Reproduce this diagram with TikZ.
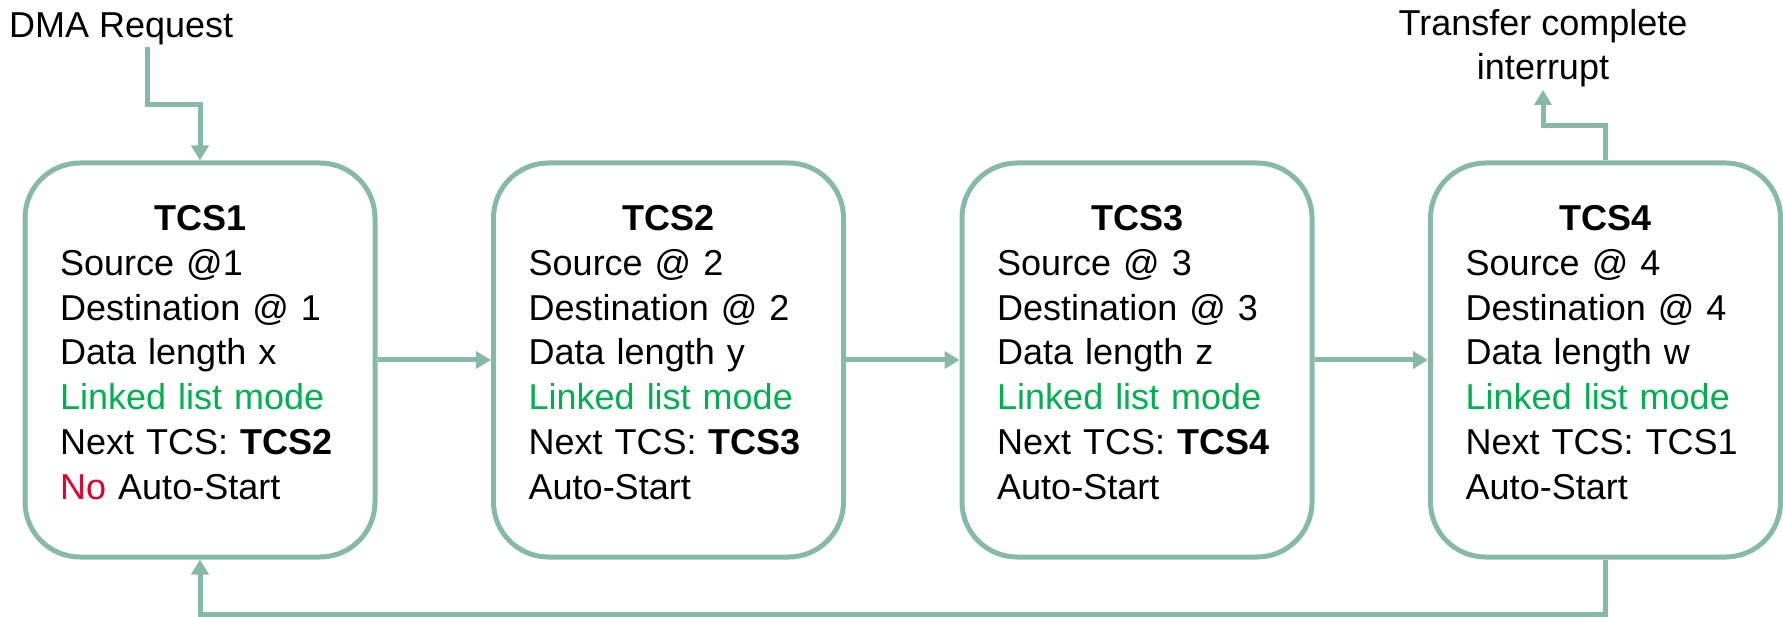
\documentclass[tikz,border=0pt]{standalone}
\usepackage{fontspec}
\setmainfont{Liberation Sans}
\usetikzlibrary{arrows.meta}
\definecolor{lineg}{RGB}{134,185,167}
\definecolor{txtgreen}{RGB}{0,176,80}
\definecolor{txtred}{RGB}{228,0,43}
\begin{document}
\begin{tikzpicture}[x=1pt,y=-1pt,
  tcsbox/.style={draw=lineg, line width=5pt, rounded corners=55pt, minimum width=350pt, minimum height=394pt, inner sep=0pt},
  tcstext/.style={anchor=north west, text width=280pt, align=left, inner sep=0pt, font=\fontsize{36}{44.7}\selectfont},
  conn/.style={draw=lineg, line width=5pt, -{Triangle[length=15pt,width=17pt]}},
  lbl/.style={inner sep=0pt, font=\fontsize{36}{44.7}\selectfont, align=center}]
\useasboundingbox (0,0) rectangle (1783,617);

\node[tcsbox] (b1) at (200,360) {};
\node[tcsbox] (b2) at (668.5,360) {};
\node[tcsbox] (b3) at (1137,360) {};
\node[tcsbox] (b4) at (1605.5,360) {};

\node[tcstext] (t1) at (60,205.5) {\makebox[\linewidth]{\bfseries TCS1}\\Source @1\\Destination @ 1\\Data length x\\\textcolor{txtgreen}{Linked list mode}\\Next TCS: \textbf{TCS2}\\\textcolor{txtred}{No} Auto-Start};
\node[tcstext] (t2) at (528.5,205.5) {\makebox[\linewidth]{\bfseries TCS2}\\Source @ 2\\Destination @ 2\\Data length y\\\textcolor{txtgreen}{Linked list mode}\\Next TCS: \textbf{TCS3}\\Auto-Start};
\node[tcstext] (t3) at (997,205.5) {\makebox[\linewidth]{\bfseries TCS3}\\Source @ 3\\Destination @ 3\\Data length z\\\textcolor{txtgreen}{Linked list mode}\\Next TCS: \textbf{TCS4}\\Auto-Start};
\node[tcstext] (t4) at (1465.5,205.5) {\makebox[\linewidth]{\bfseries TCS4}\\Source @ 4\\Destination @ 4\\Data length w\\\textcolor{txtgreen}{Linked list mode}\\Next TCS: TCS1\\Auto-Start};

\node[lbl, anchor=base west] (dma) at (9,38) {DMA Request};
\node[lbl, anchor=north] (tci) at (1543,9) {Transfer complete\\interrupt};

\coordinate (dmastart) at (147,47);
\coordinate (inttip) at (1543,90);

\draw[conn] (dmastart) -- (147,105) -| (b1.north);
\draw[conn] (b1.east) -- (b2.west);
\draw[conn] (b2.east) -- (b3.west);
\draw[conn] (b3.east) -- (b4.west);
\draw[conn] (b4.north) -- (1605.5,126) -| (inttip);
\draw[conn] (b4.south) -- ++(0,55) -| (b1.south);
\end{tikzpicture}
\end{document}
